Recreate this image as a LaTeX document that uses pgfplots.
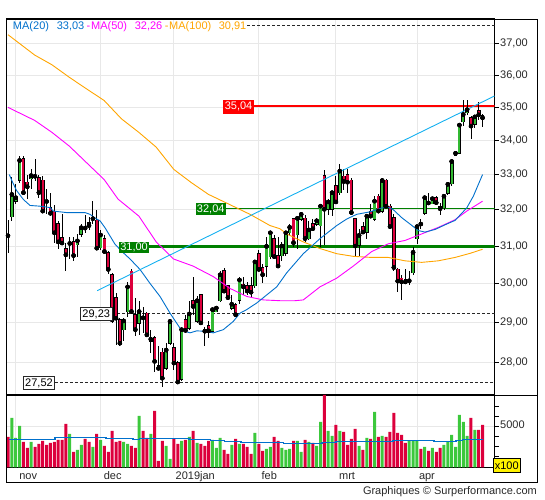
\documentclass[border=0pt]{standalone}
\usepackage{pgfplots}
\pgfplotsset{compat=1.18}
\usepackage{pgfplotstable}
\usepackage{fontspec}
\setmainfont{Liberation Sans}

\definecolor{cG}{RGB}{50,185,50}
\definecolor{cR}{RGB}{220,0,60}
\definecolor{vG}{RGB}{60,200,60}
\definecolor{vR}{RGB}{220,0,60}
\definecolor{ma20}{RGB}{0,112,204}
\definecolor{ma50}{RGB}{255,0,255}
\definecolor{ma100}{RGB}{255,165,0}
\definecolor{trend}{RGB}{20,176,240}
\definecolor{lvG}{RGB}{0,128,0}
\definecolor{gridc}{RGB}{232,232,232}
\definecolor{txt}{RGB}{40,40,40}

\pgfplotstableread{
i O H L C V
1 31.80 32.92 31.69 32.43 5833
2 32.24 32.72 32.15 32.34 3835
3 32.84 33.54 32.76 33.41 5033
6 32.88 33.15 32.58 32.97 3435
16 31.05 31.24 30.65 31.07 4234
18 31.04 31.33 30.69 31.14 2636
19 31.32 31.61 31.24 31.50 3135
22 31.73 32.24 31.61 31.75 2936
24 30.95 31.45 30.90 31.30 3635
30 28.81 29.10 28.52 29.03 3435
31 29.27 30.04 29.14 29.91 3235
34 28.97 29.53 28.68 29.27 6032
37 28.52 28.81 28.23 28.57 4234
41 27.85 28.47 27.81 28.30 3035
42 28.47 29.05 28.43 29.02 1737
45 27.58 28.85 27.54 28.81 3535
47 28.85 29.55 28.81 29.21 3935
49 29.03 29.66 28.98 29.55 3335
53 28.78 29.36 28.76 29.32 3635
54 29.27 29.38 29.25 29.36 2836
55 29.55 30.32 29.51 30.23 3835
58 29.36 29.70 29.32 29.46 3135
60 29.57 30.18 29.46 30.09 3235
64 29.94 30.60 29.87 30.57 4334
67 30.46 31.24 30.16 30.99 2736
68 30.71 31.42 30.65 31.36 2936
71 30.74 31.11 30.60 31.00 2836
72 30.81 31.42 30.74 31.36 2636
73 31.36 31.60 31.31 31.51 2736
75 31.31 31.82 30.93 31.76 3535
76 31.74 31.94 31.69 31.87 2436
78 31.20 31.69 31.15 31.44 3435
80 31.60 31.78 31.56 31.69 3035
81 31.56 32.15 30.97 32.10 5433
83 32.01 32.31 31.85 32.22 4534
84 32.01 32.53 31.82 32.48 4034
86 32.48 33.32 32.40 33.10 4534
91 31.02 31.47 30.74 31.29 3035
93 31.38 31.87 31.20 31.82 3835
95 31.74 32.38 31.69 32.24 6432
97 31.96 32.86 31.92 32.83 4034
104 30.05 30.32 29.97 30.07 3535
105 30.28 30.97 30.23 30.83 3535
106 31.20 31.56 31.06 31.53 3535
108 31.90 32.36 31.84 32.34 2936
110 32.17 32.37 32.15 32.31 2836
113 32.05 32.43 32.00 32.38 3135
114 32.46 32.76 32.40 32.72 3435
115 32.74 33.44 32.67 33.38 4134
116 33.56 33.69 33.54 33.62 2936
117 33.62 34.49 33.59 34.46 6132
118 34.56 35.23 34.43 34.78 5433
119 34.83 35.21 34.77 34.93 4034
121 34.49 34.74 34.36 34.71 4634
}\candG

\pgfplotstableread{
i O H L C V
0 31.31 31.71 30.81 31.28 3935
4 33.46 33.54 32.43 32.48 3435
5 32.78 33.00 32.31 32.65 2836
7 32.98 33.46 32.81 32.95 2936
8 32.91 33.00 32.34 32.48 3235
9 32.83 32.95 31.92 31.96 3535
10 32.26 32.58 31.87 32.23 3135
11 32.06 32.48 31.83 31.90 3335
12 31.96 32.12 31.09 31.36 3435
13 31.61 31.69 30.93 31.11 3635
14 31.22 31.87 31.06 31.08 3635
15 30.93 31.09 30.32 30.76 5233
17 31.11 31.24 30.60 30.74 2436
20 31.51 31.85 31.35 31.49 3735
21 31.64 31.80 31.45 31.56 3435
23 31.71 32.00 30.93 30.94 4234
25 31.20 31.30 30.80 30.85 3035
26 30.81 30.87 30.26 30.37 2436
27 30.23 30.28 28.98 29.06 4534
28 29.62 29.74 28.43 29.10 3435
29 29.06 29.10 28.41 28.47 3535
32 30.32 30.39 29.23 29.27 3035
33 29.19 29.62 28.64 28.81 2836
35 29.15 29.40 28.73 29.11 4534
36 29.23 29.25 28.66 28.68 3835
38 28.60 28.64 27.77 28.02 6532
39 27.91 28.39 27.81 27.85 1537
40 28.24 28.35 27.40 27.61 3535
43 28.35 28.47 27.81 27.98 3735
44 27.99 28.02 27.50 27.52 3235
46 29.06 29.19 28.73 28.79 3635
48 29.55 30.18 29.19 29.40 4534
50 29.70 29.72 28.96 28.98 3235
51 28.80 28.89 28.41 28.77 3035
52 28.90 29.02 28.61 28.78 3535
56 30.34 30.40 29.77 29.80 2636
57 29.93 29.97 29.57 29.63 2236
59 29.44 29.49 29.14 29.19 3735
61 29.98 30.18 29.70 29.91 3235
62 29.94 30.04 29.70 29.80 2936
63 29.94 30.18 29.62 29.77 2236
65 30.79 30.88 30.32 30.37 3235
66 30.42 30.51 30.00 30.23 2536
69 31.20 31.29 30.67 30.71 3935
70 30.74 31.24 30.40 30.46 3535
74 31.74 31.78 30.97 31.09 3535
77 31.76 31.85 31.11 31.20 3635
79 31.61 31.74 31.42 31.47 3335
82 32.97 33.14 31.02 32.01 8130
85 32.67 32.97 32.17 32.22 5133
87 32.95 33.15 32.55 32.80 4434
88 33.00 33.17 32.48 32.78 3135
89 32.84 32.91 31.87 31.92 3735
90 31.74 31.78 30.73 31.00 4734
92 31.53 31.65 31.33 31.38 2636
94 31.96 32.15 31.79 31.82 3735
96 32.38 32.43 31.92 31.96 3935
98 32.83 32.86 32.05 32.10 3935
99 32.10 32.15 31.51 31.53 4434
100 31.78 31.87 30.32 30.42 6332
101 30.37 30.42 29.77 30.06 4334
102 30.14 30.23 29.57 30.04 4134
103 30.09 30.37 30.00 30.04 3335
107 31.62 31.74 31.47 31.60 2736
109 32.22 32.48 32.15 32.19 2536
111 32.34 32.38 32.15 32.20 2436
112 32.08 32.20 31.85 32.03 2836
120 34.68 34.74 34.03 34.43 5833
122 34.89 35.16 34.61 34.77 4634
123 34.74 34.80 34.39 34.68 5133
}\candR

\begin{document}
\begin{tikzpicture}[x=1bp,y=1bp,font=\fontsize{11bp}{13bp}\selectfont]
\useasboundingbox (0,0) rectangle (545,500);

% ---------------- price panel ----------------
\begin{axis}[
  at={(6.7bp,105bp)}, anchor=south west, scale only axis,
  width=487.8bp, height=376bp,
  xmin=-0.337, xmax=126.1,
  ymode=log, ymin=27.21, ymax=37.82,
  axis line style={black, line width=0.9bp},
  xtick={2,24,43,65,85,106}, xticklabels={}, xtick style={draw=none},
  xmajorgrids, ymajorgrids,
  grid style={draw=gridc, line width=0.9bp},
  ytick={28,29,30,31,32,33,34,35,36,37},
  yticklabels={\textrm{28,00},\textrm{29,00},\textrm{30,00},\textrm{31,00},\textrm{32,00},\textrm{33,00},\textrm{34,00},\textrm{35,00},\textrm{36,00},\textrm{37,00}},
  ytick pos=right, yticklabel pos=right,
  tick align=outside, major tick length=4bp,
  ytick style={black, line width=0.9bp},
  yticklabel style={font=\fontsize{11bp}{13bp}\selectfont, text=txt, anchor=west, inner sep=0pt, xshift=1.5bp},
]
% level lines
\addplot[lvG, line width=3bp, forget plot] coordinates {(36.6,31.00) (126.1,31.00)};
\addplot[lvG, line width=1.2bp, forget plot] coordinates {(56.4,32.04) (126.1,32.04)};
\addplot[red, line width=2bp, forget plot] coordinates {(63.84,35.04) (126.1,35.04)};
\addplot[txt, line width=0.8bp, dash pattern=on 3bp off 2bp, forget plot] coordinates {(26.96,29.23) (126.1,29.23)};
\addplot[txt, line width=0.8bp, dash pattern=on 3bp off 2bp, forget plot] coordinates {(12.13,27.52) (126.1,27.52)};
\addplot[txt, line width=0.8bp, dash pattern=on 3bp off 2bp, forget plot] coordinates {(61.95,37.62) (126.1,37.62)};

% wicks
\addplot[draw=none, only marks, mark=none, forget plot,
  error bars/.cd, y dir=both, y explicit, error mark=none,
  error bar style={draw=black, line width=0.9bp}]
  table[x=i, y=C, y error plus expr=\thisrow{H}-\thisrow{C}, y error minus expr=\thisrow{C}-\thisrow{L}] {\candG};
\addplot[draw=none, only marks, mark=none, forget plot,
  error bars/.cd, y dir=both, y explicit, error mark=none,
  error bar style={draw=black, line width=0.9bp}]
  table[x=i, y=C, y error plus expr=\thisrow{H}-\thisrow{C}, y error minus expr=\thisrow{C}-\thisrow{L}] {\candR};
% bodies: outline
\addplot[draw=none, only marks, mark=none, forget plot,
  error bars/.cd, y dir=both, y explicit, error mark=none,
  error bar style={draw=black, line width=3.7bp}]
  table[x=i, y=C, y error plus expr=0.016, y error minus expr=\thisrow{C}-\thisrow{O}+0.016] {\candG};
\addplot[draw=none, only marks, mark=none, forget plot,
  error bars/.cd, y dir=both, y explicit, error mark=none,
  error bar style={draw=black, line width=3.7bp}]
  table[x=i, y=C, y error plus expr=\thisrow{O}-\thisrow{C}+0.016, y error minus expr=0.016] {\candR};
% bodies: fill
\addplot[draw=none, only marks, mark=none, forget plot,
  error bars/.cd, y dir=both, y explicit, error mark=none,
  error bar style={draw=cG, line width=2.1bp}]
  table[x=i, y=C, y error plus expr=0, y error minus expr=\thisrow{C}-\thisrow{O}] {\candG};
\addplot[draw=none, only marks, mark=none, forget plot,
  error bars/.cd, y dir=both, y explicit, error mark=none,
  error bar style={draw=cR, line width=2.1bp}]
  table[x=i, y=C, y error plus expr=\thisrow{O}-\thisrow{C}, y error minus expr=0] {\candR};

% moving averages
\addplot[ma100, line width=0.9bp, mark=none] coordinates {
(0,37.3) (6.92,36.64) (11.40,36.33) (15.92,35.93) (20.40,35.57) (24.91,35.21) (29.39,34.65) (33.93,34.24) (38.41,33.80) (42.97,33.15) (47.48,32.77) (51.97,32.43) (54.69,32.29) (62.73,31.87) (67.91,31.56) (70.50,31.47) (72.24,31.33) (76.54,31.11) (80.87,30.93) (85.20,30.79) (89.50,30.72) (94.27,30.69) (98.57,30.69) (102.90,30.60) (107.23,30.56) (111.53,30.60) (115.86,30.69) (119.75,30.80) (123,30.91)};
\addplot[ma50, line width=0.9bp, mark=none] coordinates {
(0,35.0) (6.92,34.6) (11.40,34.24) (15.92,33.83) (20.40,33.34) (24.91,32.86) (28.51,32.30) (33.93,31.82) (38.41,31.11) (42.90,30.65) (47.95,30.46) (53.21,30.18) (57.54,29.87) (61.87,29.66) (66.17,29.57) (70.50,29.55) (74.39,29.55) (76.54,29.57) (80.87,29.91) (85.20,30.14) (89.50,30.46) (94.27,30.85) (98.57,31.06) (102.90,31.15) (107.23,31.33) (111.53,31.51) (115.86,31.72) (118.90,31.96) (123,32.24)};
\addplot[ma20, line width=0.9bp, mark=none] coordinates {
(0.34,33.0) (1.3,32.75) (2.25,32.54) (3.97,32.29) (5.70,32.12) (8.29,32.10) (10.89,32.06) (11.74,31.96) (15.22,31.92) (19.96,31.92) (21.25,31.87) (22.99,31.74) (23.85,31.69) (25.14,31.50) (27.73,31.05) (29.55,30.85) (31.62,30.65) (34.21,30.37) (36.81,30.0) (39.40,29.66) (41.99,29.23) (44.58,28.85) (45.88,28.77) (47.17,28.73) (48.91,28.78) (51.06,28.77) (53.21,28.73) (55.81,28.81) (58.40,29.02) (60.14,29.23) (61.87,29.32) (64.46,29.49) (67.06,29.70) (69.65,29.91) (72.24,30.28) (76.54,30.79) (80.87,31.20) (85.20,31.56) (87.79,31.74) (90.38,31.87) (93.83,31.94) (96.86,32.05) (98.57,32.07) (99.87,32.00) (102.05,31.78) (104.20,31.60) (106.35,31.42) (108.09,31.38) (110.68,31.45) (113.27,31.58) (115.86,31.70) (117.16,31.85) (118.90,32.05) (120.61,32.38) (123,33.0)};
% trend line
\addplot[trend, line width=0.9bp, mark=none] coordinates {(23.12,29.81) (126.1,35.35)};
\end{axis}

% ---------------- volume panel ----------------
\begin{axis}[
  at={(6.7bp,32.7bp)}, anchor=south west, scale only axis,
  width=487.8bp, height=72.3bp,
  xmin=-0.337, xmax=126.1, ymin=900, ymax=8130,
  axis line style={black, line width=0.9bp},
  xtick={2,24,43,65,85,106}, xticklabels={}, xtick style={draw=none},
  xmajorgrids, ymajorgrids,
  grid style={draw=gridc, line width=0.9bp},
  ytick={5000}, yticklabels={\textrm{5000}},
  minor ytick={2000,3000,4000,6000,7000},
  scaled y ticks=false,
  ytick pos=right, yticklabel pos=right,
  tick align=outside, major tick length=4bp, minor tick length=4bp,
  ytick style={black, line width=0.9bp},
  minor y tick style={black, line width=0.9bp},
  yticklabel style={font=\fontsize{11bp}{13bp}\selectfont, text=txt, anchor=west, inner sep=0pt, xshift=1.5bp, yshift=1.5bp},
]
\addplot[ybar, bar width=3.0bp, bar shift=0pt, fill=vG, draw=none] table[x=i, y=V] {\candG};
\addplot[ybar, bar width=3.0bp, bar shift=0pt, fill=vR, draw=none] table[x=i, y=V] {\candR};
\addplot[const plot, ma20, line width=1.2bp, mark=none] coordinates {
(0.26,3700) (12.2,3900) (25.4,3800) (32.4,3700) (34,3800) (46.9,3700) (52.4,3600) (56.2,3500) (60.4,3400) (71.5,3300) (81.4,3400) (85,3500) (99.8,3600) (110.4,3500) (116.1,3600) (117.9,3700) (123,3700)};
\end{axis}

% ---------------- frame ----------------
\draw[line width=0.9bp] (6.7,17.7) rectangle (537.5,481);
\draw[line width=0.9bp] (494.5,105) -- (537.5,105);

% ---------------- legend ----------------
\node[anchor=base west, inner sep=0pt, text=ma20] at (12.8,470.5) {MA(20)};
\node[anchor=base west, inner sep=0pt, text=ma20] at (56.6,470.5) {33,03};
\node[anchor=base west, inner sep=0pt, text=ma50] at (86.5,470.5) {-};
\node[anchor=base west, inner sep=0pt, text=ma50] at (90.9,470.5) {MA(50)};
\node[anchor=base west, inner sep=0pt, text=ma50] at (134.6,470.5) {32,26};
\node[anchor=base west, inner sep=0pt, text=ma100] at (164.6,470.5) {-};
\node[anchor=base west, inner sep=0pt, text=ma100] at (169,470.5) {MA(100)};
\node[anchor=base west, inner sep=0pt, text=ma100] at (218.6,470.5) {30,91};

% ---------------- level labels ----------------
\node[fill=red, text=white, minimum width=31.5bp, minimum height=13.6bp, inner sep=0pt] at (238.55,393.2) {35,04};
\node[fill=lvG, text=white, minimum width=29.5bp, minimum height=11.7bp, inner sep=0pt] at (210.75,290.8) {32,04};
\node[fill=lvG, text=white, minimum width=30.2bp, minimum height=11.6bp, inner sep=0pt] at (134.1,252.5) {31,00};
\node[draw=txt, fill=white, text=black, line width=0.8bp, minimum width=31.5bp, minimum height=13.4bp, inner sep=0pt] at (96.25,186) {29,23};
\node[draw=txt, fill=white, text=black, line width=0.8bp, minimum width=31.6bp, minimum height=12.6bp, inner sep=0pt] at (39,117) {27,52};

% ---------------- x100 box ----------------
\node[draw=black, fill=yellow, line width=0.8bp, minimum width=26.5bp, minimum height=14bp, inner sep=0pt] at (506.75,34.7) {x100};

% ---------------- months ----------------
\node[anchor=base west, inner sep=0pt, text=txt] at (19.1,20.7) {nov};
\node[anchor=base west, inner sep=0pt, text=txt] at (103.6,20.7) {dec};
\node[anchor=base west, inner sep=0pt, text=txt] at (175.5,20.7) {2019jan};
\node[anchor=base west, inner sep=0pt, text=txt] at (261.4,20.7) {feb};
\node[anchor=base west, inner sep=0pt, text=txt] at (338.9,20.7) {mrt};
\node[anchor=base west, inner sep=0pt, text=txt] at (418.8,20.7) {apr};

% ---------------- credits ----------------
\node[anchor=base east, inner sep=0pt, text=txt] at (537,5.5) {Graphiques © Surperformance.com};
\end{tikzpicture}
\end{document}
